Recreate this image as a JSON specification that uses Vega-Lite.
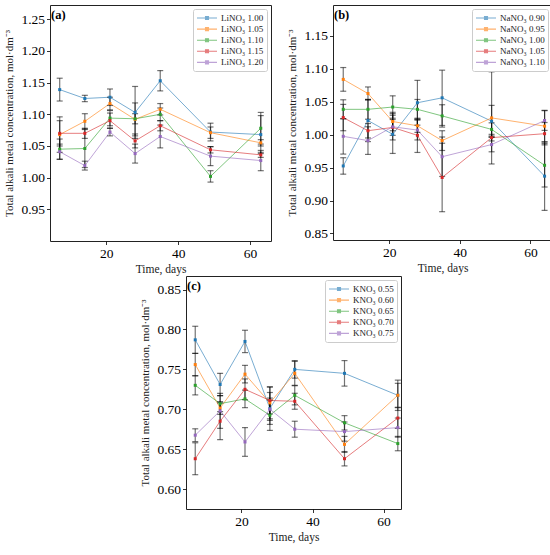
{
  "$schema": "https://vega.github.io/schema/vega-lite/v6.json",
  "padding": {"left": 3, "top": 4, "right": 4, "bottom": 4},
  "config": {
    "font": "Liberation Serif",
    "view": {"stroke": "#222", "strokeWidth": 1},
    "axis": {
      "grid": false, "domain": false, "tickColor": "#000", "tickSize": 3.5, "tickWidth": 0.8,
      "labelColor": "#000", "labelFontSize": 13.5, "labelPadding": 2,
      "titleColor": "#222", "titleFontWeight": "normal", "titleFontSize": 11.5
    },
    "axisY": {"titleFontSize": 11, "titlePadding": 6},
    "axisX": {"titlePadding": 3},
    "title": {"anchor": "start", "frame": "group", "offset": -16, "dx": 1, "fontSize": 12.5, "fontWeight": "bold", "color": "#000"},
    "legend": {
      "orient": "top-right", "offset": 4, "padding": 3, "rowPadding": 0.1,
      "strokeColor": "#ccc", "fillColor": "white", "cornerRadius": 2,
      "labelFontSize": 9, "labelColor": "#222", "labelOffset": 8, "symbolOffset": 5,
      "symbolType": "M-2,0H2M-0.3,-0.3H0.3V0.3H-0.3Z",
      "symbolSize": 100, "symbolStrokeWidth": 1.1
    }
  },
  "datasets": {
    "a": [
      {"d": 7, "s": "LiNO₃ 1.00", "v": 1.139, "e": 0.018},
      {"d": 14, "s": "LiNO₃ 1.00", "v": 1.125, "e": 0.005},
      {"d": 21, "s": "LiNO₃ 1.00", "v": 1.127, "e": 0.013},
      {"d": 28, "s": "LiNO₃ 1.00", "v": 1.103, "e": 0.041},
      {"d": 35, "s": "LiNO₃ 1.00", "v": 1.153, "e": 0.016},
      {"d": 49, "s": "LiNO₃ 1.00", "v": 1.072, "e": 0.014},
      {"d": 63, "s": "LiNO₃ 1.00", "v": 1.068, "e": 0.030},
      {"d": 7, "s": "LiNO₃ 1.05", "v": 1.068, "e": 0.028},
      {"d": 14, "s": "LiNO₃ 1.05", "v": 1.089, "e": 0.012},
      {"d": 21, "s": "LiNO₃ 1.05", "v": 1.117, "e": 0.010},
      {"d": 28, "s": "LiNO₃ 1.05", "v": 1.092, "e": 0.026},
      {"d": 35, "s": "LiNO₃ 1.05", "v": 1.108, "e": 0.009},
      {"d": 49, "s": "LiNO₃ 1.05", "v": 1.071, "e": 0.009},
      {"d": 63, "s": "LiNO₃ 1.05", "v": 1.055, "e": 0.005},
      {"d": 7, "s": "LiNO₃ 1.10", "v": 1.045, "e": 0.016},
      {"d": 14, "s": "LiNO₃ 1.10", "v": 1.046, "e": 0.030},
      {"d": 21, "s": "LiNO₃ 1.10", "v": 1.094, "e": 0.012},
      {"d": 28, "s": "LiNO₃ 1.10", "v": 1.093, "e": 0.008},
      {"d": 35, "s": "LiNO₃ 1.10", "v": 1.100, "e": 0.010},
      {"d": 49, "s": "LiNO₃ 1.10", "v": 1.002, "e": 0.009},
      {"d": 63, "s": "LiNO₃ 1.10", "v": 1.078, "e": 0.025},
      {"d": 7, "s": "LiNO₃ 1.15", "v": 1.070, "e": 0.020},
      {"d": 14, "s": "LiNO₃ 1.15", "v": 1.070, "e": 0.008},
      {"d": 21, "s": "LiNO₃ 1.15", "v": 1.090, "e": 0.012},
      {"d": 28, "s": "LiNO₃ 1.15", "v": 1.058, "e": 0.011},
      {"d": 35, "s": "LiNO₃ 1.15", "v": 1.082, "e": 0.008},
      {"d": 49, "s": "LiNO₃ 1.15", "v": 1.044, "e": 0.005},
      {"d": 63, "s": "LiNO₃ 1.15", "v": 1.036, "e": 0.004},
      {"d": 7, "s": "LiNO₃ 1.20", "v": 1.041, "e": 0.012},
      {"d": 14, "s": "LiNO₃ 1.20", "v": 1.019, "e": 0.007},
      {"d": 21, "s": "LiNO₃ 1.20", "v": 1.072, "e": 0.006},
      {"d": 28, "s": "LiNO₃ 1.20", "v": 1.038, "e": 0.015},
      {"d": 35, "s": "LiNO₃ 1.20", "v": 1.065, "e": 0.018},
      {"d": 49, "s": "LiNO₃ 1.20", "v": 1.034, "e": 0.015},
      {"d": 63, "s": "LiNO₃ 1.20", "v": 1.027, "e": 0.016}
    ],
    "b": [
      {"d": 7, "s": "NaNO₃ 0.90", "v": 0.9525, "e": 0.0125},
      {"d": 14, "s": "NaNO₃ 0.90", "v": 1.0215, "e": 0.032},
      {"d": 21, "s": "NaNO₃ 0.90", "v": 1.0005, "e": 0.029},
      {"d": 28, "s": "NaNO₃ 0.90", "v": 1.0485, "e": 0.034},
      {"d": 35, "s": "NaNO₃ 0.90", "v": 1.056, "e": 0.042},
      {"d": 49, "s": "NaNO₃ 0.90", "v": 1.0205, "e": 0.024},
      {"d": 64, "s": "NaNO₃ 0.90", "v": 0.937, "e": 0.052},
      {"d": 7, "s": "NaNO₃ 0.95", "v": 1.084, "e": 0.018},
      {"d": 14, "s": "NaNO₃ 0.95", "v": 1.0625, "e": 0.010},
      {"d": 21, "s": "NaNO₃ 0.95", "v": 1.020, "e": 0.014},
      {"d": 28, "s": "NaNO₃ 0.95", "v": 1.0135, "e": 0.010},
      {"d": 35, "s": "NaNO₃ 0.95", "v": 0.991, "e": 0.015},
      {"d": 49, "s": "NaNO₃ 0.95", "v": 1.0255, "e": 0.070},
      {"d": 64, "s": "NaNO₃ 0.95", "v": 1.013, "e": 0.024},
      {"d": 7, "s": "NaNO₃ 1.00", "v": 1.0385, "e": 0.0145},
      {"d": 14, "s": "NaNO₃ 1.00", "v": 1.0385, "e": 0.015},
      {"d": 21, "s": "NaNO₃ 1.00", "v": 1.042, "e": 0.017},
      {"d": 28, "s": "NaNO₃ 1.00", "v": 1.0385, "e": 0.015},
      {"d": 35, "s": "NaNO₃ 1.00", "v": 1.0285, "e": 0.017},
      {"d": 49, "s": "NaNO₃ 1.00", "v": 1.008, "e": 0.010},
      {"d": 64, "s": "NaNO₃ 1.00", "v": 0.9535, "e": 0.033},
      {"d": 7, "s": "NaNO₃ 1.05", "v": 1.026, "e": 0.020},
      {"d": 14, "s": "NaNO₃ 1.05", "v": 1.006, "e": 0.011},
      {"d": 21, "s": "NaNO₃ 1.05", "v": 1.011, "e": 0.012},
      {"d": 28, "s": "NaNO₃ 1.05", "v": 0.999, "e": 0.026},
      {"d": 35, "s": "NaNO₃ 1.05", "v": 0.935, "e": 0.052},
      {"d": 49, "s": "NaNO₃ 1.05", "v": 0.9955, "e": 0.005},
      {"d": 64, "s": "NaNO₃ 1.05", "v": 1.0015, "e": 0.017},
      {"d": 7, "s": "NaNO₃ 1.10", "v": 0.9975, "e": 0.027},
      {"d": 14, "s": "NaNO₃ 1.10", "v": 0.991, "e": 0.021},
      {"d": 21, "s": "NaNO₃ 1.10", "v": 1.012, "e": 0.020},
      {"d": 28, "s": "NaNO₃ 1.10", "v": 1.007, "e": 0.015},
      {"d": 35, "s": "NaNO₃ 1.10", "v": 0.9665, "e": 0.030},
      {"d": 49, "s": "NaNO₃ 1.10", "v": 0.985, "e": 0.011},
      {"d": 64, "s": "NaNO₃ 1.10", "v": 1.0215, "e": 0.015}
    ],
    "c": [
      {"d": 7, "s": "KNO₃ 0.55", "v": 0.787, "e": 0.017},
      {"d": 14, "s": "KNO₃ 0.55", "v": 0.731, "e": 0.014},
      {"d": 21, "s": "KNO₃ 0.55", "v": 0.785, "e": 0.014},
      {"d": 28, "s": "KNO₃ 0.55", "v": 0.701, "e": 0.020},
      {"d": 35, "s": "KNO₃ 0.55", "v": 0.750, "e": 0.011},
      {"d": 49, "s": "KNO₃ 0.55", "v": 0.745, "e": 0.016},
      {"d": 64, "s": "KNO₃ 0.55", "v": 0.7175, "e": 0.015},
      {"d": 7, "s": "KNO₃ 0.60", "v": 0.756, "e": 0.014},
      {"d": 14, "s": "KNO₃ 0.60", "v": 0.7015, "e": 0.008},
      {"d": 21, "s": "KNO₃ 0.60", "v": 0.744, "e": 0.011},
      {"d": 28, "s": "KNO₃ 0.60", "v": 0.708, "e": 0.020},
      {"d": 35, "s": "KNO₃ 0.60", "v": 0.745, "e": 0.015},
      {"d": 49, "s": "KNO₃ 0.60", "v": 0.656, "e": 0.010},
      {"d": 64, "s": "KNO₃ 0.60", "v": 0.7175, "e": 0.019},
      {"d": 7, "s": "KNO₃ 0.65", "v": 0.730, "e": 0.012},
      {"d": 14, "s": "KNO₃ 0.65", "v": 0.707, "e": 0.010},
      {"d": 21, "s": "KNO₃ 0.65", "v": 0.713, "e": 0.011},
      {"d": 28, "s": "KNO₃ 0.65", "v": 0.6925, "e": 0.019},
      {"d": 35, "s": "KNO₃ 0.65", "v": 0.7175, "e": 0.012},
      {"d": 49, "s": "KNO₃ 0.65", "v": 0.683, "e": 0.009},
      {"d": 64, "s": "KNO₃ 0.65", "v": 0.657, "e": 0.009},
      {"d": 7, "s": "KNO₃ 0.70", "v": 0.638, "e": 0.020},
      {"d": 14, "s": "KNO₃ 0.70", "v": 0.685, "e": 0.023},
      {"d": 21, "s": "KNO₃ 0.70", "v": 0.725, "e": 0.013},
      {"d": 28, "s": "KNO₃ 0.70", "v": 0.711, "e": 0.017},
      {"d": 35, "s": "KNO₃ 0.70", "v": 0.710, "e": 0.010},
      {"d": 49, "s": "KNO₃ 0.70", "v": 0.638, "e": 0.009},
      {"d": 64, "s": "KNO₃ 0.70", "v": 0.689, "e": 0.013},
      {"d": 7, "s": "KNO₃ 0.75", "v": 0.6675, "e": 0.008},
      {"d": 14, "s": "KNO₃ 0.75", "v": 0.698, "e": 0.022},
      {"d": 21, "s": "KNO₃ 0.75", "v": 0.659, "e": 0.018},
      {"d": 28, "s": "KNO₃ 0.75", "v": 0.700, "e": 0.014},
      {"d": 35, "s": "KNO₃ 0.75", "v": 0.675, "e": 0.010},
      {"d": 49, "s": "KNO₃ 0.75", "v": 0.672, "e": 0.012},
      {"d": 64, "s": "KNO₃ 0.75", "v": 0.677, "e": 0.012}
    ]
  },
  "resolve": {
    "scale": {"x": "independent", "y": "independent", "color": "independent"},
    "axis": {"x": "independent", "y": "independent"},
    "legend": {"color": "independent"}
  },
  "vconcat": [
    {
      "hconcat": [
        {
          "title": "(a)",
          "width": 221, "height": 236,
          "data": {"name": "a"},
          "encoding": {
            "x": {"field": "d", "type": "quantitative", "title": "Time, days",
                  "scale": {"domain": [4.3, 65.85], "nice": false, "zero": false},
                  "axis": {"values": [20, 40, 60]}},
            "y": {"field": "v", "type": "quantitative",
                  "title": "Total alkali metal concentration, mol·dm⁻³",
                  "scale": {"domain": [0.90, 1.2726], "nice": false, "zero": false},
                  "axis": {"values": [0.95, 1.0, 1.05, 1.1, 1.15, 1.2, 1.25], "format": ".2f"}},
            "color": {"field": "s", "type": "nominal", "title": null,
              "scale": {"range": ["#1f77b4", "#ff7f0e", "#2ca02c", "#d62728", "#9467bd"]}}
          },
          "layer": [
            {"mark": {"type": "line", "strokeWidth": 1, "opacity": 0.6}},
            {"mark": {"type": "errorbar", "color": "#000", "opacity": 0.55, "thickness": 1.2, "ticks": {"size": 6}},
             "encoding": {"yError": {"field": "e"}, "color": {"value": "#000"}}},
            {"mark": {"type": "point", "shape": "square", "size": 9, "filled": true, "opacity": 1}}
          ]
        },
        {
          "title": "(b)",
          "width": 219, "height": 235,
          "data": {"name": "b"},
          "encoding": {
            "x": {"field": "d", "type": "quantitative", "title": "Time, days",
                  "scale": {"domain": [4.1, 66.1], "nice": false, "zero": false},
                  "axis": {"values": [20, 40, 60]}},
            "y": {"field": "v", "type": "quantitative",
                  "title": "Total alkali metal concentration, mol·dm⁻³",
                  "scale": {"domain": [0.84, 1.197], "nice": false, "zero": false},
                  "axis": {"values": [0.85, 0.9, 0.95, 1.0, 1.05, 1.1, 1.15], "format": ".2f"}},
            "color": {"field": "s", "type": "nominal", "title": null,
              "scale": {"range": ["#1f77b4", "#ff7f0e", "#2ca02c", "#d62728", "#9467bd"]}}
          },
          "layer": [
            {"mark": {"type": "line", "strokeWidth": 1, "opacity": 0.6}},
            {"mark": {"type": "errorbar", "color": "#000", "opacity": 0.55, "thickness": 1.2, "ticks": {"size": 6}},
             "encoding": {"yError": {"field": "e"}, "color": {"value": "#000"}}},
            {"mark": {"type": "point", "shape": "square", "size": 9, "filled": true, "opacity": 1}}
          ]
        }
      ],
      "spacing": 14,
      "resolve": {
        "scale": {"x": "independent", "y": "independent", "color": "independent"},
        "axis": {"x": "independent", "y": "independent"},
        "legend": {"color": "independent"}
      }
    },
    {
      "hconcat": [
        {
          "width": 89, "height": 10,
          "view": {"stroke": null},
          "data": {"values": []},
          "mark": "point"
        },
        {
          "title": "(c)",
          "width": 215, "height": 233,
          "data": {"name": "c"},
          "encoding": {
            "x": {"field": "d", "type": "quantitative", "title": "Time, days",
                  "scale": {"domain": [4.4, 64.9], "nice": false, "zero": false},
                  "axis": {"values": [20, 40, 60]}},
            "y": {"field": "v", "type": "quantitative",
                  "title": "Total alkali metal concentration, mol·dm⁻³",
                  "scale": {"domain": [0.575, 0.867], "nice": false, "zero": false},
                  "axis": {"values": [0.6, 0.65, 0.7, 0.75, 0.8, 0.85], "format": ".2f"}},
            "color": {"field": "s", "type": "nominal", "title": null,
              "scale": {"range": ["#1f77b4", "#ff7f0e", "#2ca02c", "#d62728", "#9467bd"]}}
          },
          "layer": [
            {"mark": {"type": "line", "strokeWidth": 1, "opacity": 0.6}},
            {"mark": {"type": "errorbar", "color": "#000", "opacity": 0.55, "thickness": 1.2, "ticks": {"size": 6}},
             "encoding": {"yError": {"field": "e"}, "color": {"value": "#000"}}},
            {"mark": {"type": "point", "shape": "square", "size": 9, "filled": true, "opacity": 1}}
          ]
        }
      ],
      "spacing": 0,
      "resolve": {
        "scale": {"x": "independent", "y": "independent", "color": "independent"},
        "axis": {"x": "independent", "y": "independent"},
        "legend": {"color": "independent"}
      }
    }
  ],
  "spacing": 0
}
